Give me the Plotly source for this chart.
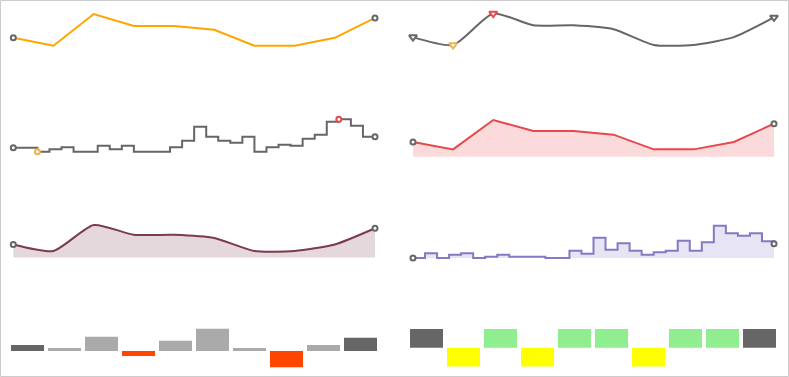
import plotly.graph_objects as go

W, H = 789, 377

# ---------------- data ----------------
LINE_VALUES = [4, 2, 10, 7, 7, 6, 2, 2, 4, 9]
STEP_A = [12, 12, 0, 7, 13, 0, 0, 18, 7, 18, 0, 0, 0, 13, 33, 75, 45, 33, 27, 45,
          0, 13, 21, 18, 39, 51, 90, 97, 78, 45, 45]
STEP_B = [0, 14, 0, 10, 14, 0, 4, 10, 4, 4, 4, 0, 0, 22, 13, 61, 25, 44, 22, 10,
          17, 22, 52, 22, 47, 97, 74, 67, 74, 50, 43]
BAR_VALUES = [6, 3, 14, -5, 10, 22, 3, -16, 6, 13]
TRISTATE = [1, -1, 1, -1, 1, 1, -1, 1, 1, 1]

# ---------------- styles ----------------
GRAY = "#666666"
LIGHT = "#aaaaaa"
GOLD = "#e8b64a"
RED = "#e6484d"
ORANGE = "#ffa500"
MAROON = "#7b3a4e"
PURPLE = "#8679c4"

fig = go.Figure()
layout = {}


def calib(p0, v0, p1, v1, d0, d1):
    """value range for pixel domain [d0, d1] given two calibration points"""
    k = (v1 - v0) / (p1 - p0)
    return [v0 + (d0 - p0) * k, v0 + (d1 - p0) * k]


def panel(i, xcal, ycal, dom_x, dom_y):
    xr = calib(xcal[0], xcal[1], xcal[2], xcal[3], dom_x[0], dom_x[1])
    # y: dom_y = (top_px, bottom_px); range from bottom to top
    yr = calib(ycal[0], ycal[1], ycal[2], ycal[3], dom_y[1], dom_y[0])
    sx = "" if i == 1 else str(i)
    layout["xaxis" + sx] = dict(domain=[dom_x[0] / W, dom_x[1] / W], range=xr,
                                visible=False, anchor="y" + sx, fixedrange=True)
    layout["yaxis" + sx] = dict(domain=[1 - dom_y[1] / H, 1 - dom_y[0] / H], range=yr,
                                visible=False, anchor="x" + sx, fixedrange=True)
    return "x" + sx, "y" + sx


LEFT = (4, 390)
RIGHT = (398, 785)
ROWS = [(3, 92), (98, 187), (193, 282), (288, 374)]


def spots(xa, ya, vals, idxs, cols, symbol="circle", size=5):
    fig.add_trace(go.Scatter(
        x=idxs, y=[vals[j] for j in idxs], xaxis=xa, yaxis=ya, mode="markers",
        cliponaxis=False, hoverinfo="skip",
        marker=dict(symbol=symbol, size=size, color="white",
                    line=dict(color=cols, width=2))))


def first_last_min_max(vals):
    n = len(vals)
    return [0, vals.index(min(vals)), vals.index(max(vals)), n - 1]


# Panel 1: orange line
xa, ya = panel(1, (13.3, 0, 375, len(LINE_VALUES) - 1), (45.7, 2, 14, 10), LEFT, ROWS[0])
fig.add_trace(go.Scatter(x=list(range(len(LINE_VALUES))), y=LINE_VALUES, xaxis=xa, yaxis=ya,
                         mode="lines", line=dict(color=ORANGE, width=2), hoverinfo="skip"))
spots(xa, ya, LINE_VALUES, [0, len(LINE_VALUES) - 1], [GRAY, GRAY])

# Panel 2: gray spline, triangle spots
xa, ya = panel(2, (413, 0, 774, len(LINE_VALUES) - 1), (45, 2, 13.5, 10), RIGHT, ROWS[0])
fig.add_trace(go.Scatter(x=list(range(len(LINE_VALUES))), y=LINE_VALUES, xaxis=xa, yaxis=ya,
                         mode="lines", line=dict(color=GRAY, width=2, shape="spline", smoothing=0.6),
                         hoverinfo="skip"))
spots(xa, ya, LINE_VALUES, first_last_min_max(LINE_VALUES), [GRAY, GOLD, RED, GRAY],
      symbol="triangle-down", size=7)

# Panel 3: gray step line
xa, ya = panel(3, (13.3, 0, 375, len(STEP_A) - 1), (151.7, 0, 119.3, 97), LEFT, ROWS[1])
fig.add_trace(go.Scatter(x=list(range(len(STEP_A))), y=STEP_A, xaxis=xa, yaxis=ya,
                         mode="lines", line=dict(color=GRAY, width=2, shape="hv"), hoverinfo="skip"))
spots(xa, ya, STEP_A, first_last_min_max(STEP_A), [GRAY, GOLD, RED, GRAY])

# Panel 4: red filled line
xa, ya = panel(4, (413, 0, 774, len(LINE_VALUES) - 1), (156.7, 0, 120, 10), RIGHT, ROWS[1])
fig.add_trace(go.Scatter(x=list(range(len(LINE_VALUES))), y=LINE_VALUES, xaxis=xa, yaxis=ya,
                         mode="lines", fill="tozeroy", fillcolor="rgba(230,72,77,0.2)",
                         line=dict(color=RED, width=2), hoverinfo="skip"))
spots(xa, ya, LINE_VALUES, [0, len(LINE_VALUES) - 1], [GRAY, GRAY])

# Panel 5: maroon filled spline
xa, ya = panel(5, (13.3, 0, 375, len(LINE_VALUES) - 1), (257.5, 0, 225, 10), LEFT, ROWS[2])
fig.add_trace(go.Scatter(x=list(range(len(LINE_VALUES))), y=LINE_VALUES, xaxis=xa, yaxis=ya,
                         mode="lines", fill="tozeroy", fillcolor="rgba(123,58,78,0.2)",
                         line=dict(color=MAROON, width=2, shape="spline", smoothing=0.6),
                         hoverinfo="skip"))
spots(xa, ya, LINE_VALUES, [0, len(LINE_VALUES) - 1], [GRAY, GRAY])

# Panel 6: purple filled step
xa, ya = panel(6, (413, 0, 774, len(STEP_B) - 1), (258, 0, 225.7, 97), RIGHT, ROWS[2])
fig.add_trace(go.Scatter(x=list(range(len(STEP_B))), y=STEP_B, xaxis=xa, yaxis=ya,
                         mode="lines", fill="tozeroy", fillcolor="rgba(134,121,196,0.2)",
                         line=dict(color=PURPLE, width=2, shape="hv"), hoverinfo="skip"))
spots(xa, ya, STEP_B, [0, len(STEP_B) - 1], [GRAY, GRAY])

# Panel 7: bars
xa, ya = panel(7, (27.5, 0, 360.5, len(BAR_VALUES) - 1), (351, 0, 328.7, 22), LEFT, ROWS[3])
n = len(BAR_VALUES)
bar_cols = [GRAY if (j == 0 or j == n - 1) else ("#ff4500" if v < 0 else LIGHT)
            for j, v in enumerate(BAR_VALUES)]
fig.add_trace(go.Bar(x=list(range(n)), y=BAR_VALUES, xaxis=xa, yaxis=ya, width=0.892,
                     marker=dict(color=bar_cols, line=dict(width=0)), hoverinfo="skip"))

# Panel 8: tristate
xa, ya = panel(8, (426.5, 0, 759.5, len(TRISTATE) - 1), (347.8, 0, 329, 1), RIGHT, ROWS[3])
n = len(TRISTATE)
tri_cols = [GRAY if (j == 0 or j == n - 1) else ("#90ee90" if v > 0 else "#ffff00")
            for j, v in enumerate(TRISTATE)]
fig.add_trace(go.Bar(x=list(range(n)), y=TRISTATE, xaxis=xa, yaxis=ya, width=0.892,
                     marker=dict(color=tri_cols, line=dict(width=0)), hoverinfo="skip"))

fig.update_layout(
    width=W, height=H, margin=dict(l=0, r=0, t=0, b=0),
    paper_bgcolor="white", plot_bgcolor="rgba(0,0,0,0)",
    showlegend=False, barmode="relative",
    shapes=[dict(type="rect", xref="paper", yref="paper",
                 x0=0.5 / W, x1=788.5 / W, y0=1 - 376.5 / H, y1=1 - 0.5 / H,
                 line=dict(color="#cccccc", width=1), fillcolor="rgba(0,0,0,0)")],
    **layout,
)

fig.write_html("out.html", config={"displayModeBar": False},
               post_script="document.body.style.margin='0';document.body.style.overflow='hidden';")
